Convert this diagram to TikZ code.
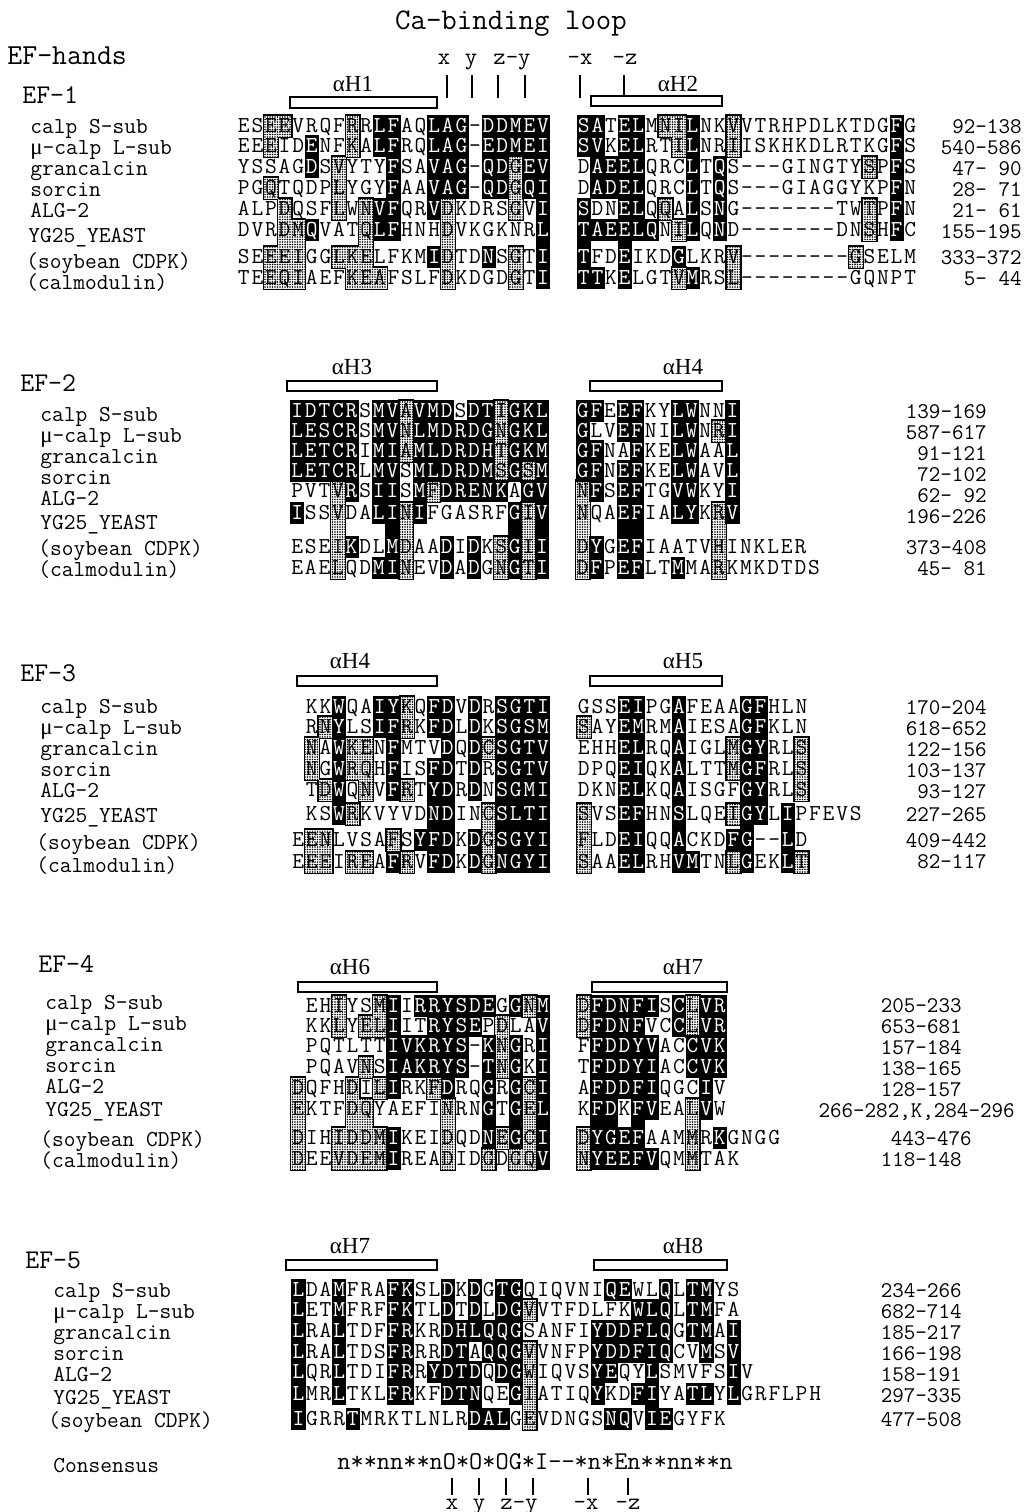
\documentclass[tikz,border=0pt]{standalone}
\usepackage{fontspec}
\newfontfamily\grkfont{Liberation Serif}
\usetikzlibrary{patterns.meta}
\tikzset{
  res/.style={font=\ttfamily\fontsize{11.4}{12}\selectfont, inner sep=0pt, anchor=base},
  nam/.style={font=\ttfamily\fontsize{11.4}{12}\selectfont, inner sep=0pt, anchor=base west},
  num/.style={font=\ttfamily\fontsize{11.2}{12}\selectfont, inner sep=0pt, anchor=base east},
  efl/.style={font=\ttfamily\fontsize{13.5}{15}\selectfont, inner sep=0pt, anchor=base west},
  head/.style={font=\ttfamily\fontsize{15}{17}\selectfont, inner sep=0pt, anchor=base},
  loopl/.style={font=\ttfamily\fontsize{12}{13}\selectfont, inner sep=0pt, anchor=base},
  hlab/.style={font=\grkfont\fontsize{11.5}{12}\selectfont, inner sep=0pt, anchor=base},
  helix/.style={draw, line width=1.4pt, fill=white},
  tick/.style={line width=0.6pt},
  dotty/.style={pattern={Dots[radius=0.4pt,distance=1.25pt]}, pattern color=black}
}

% one aligned row: name, y, residues (/ = empty), shading (. none, b black, g dotted)
% each block is drawn in four passes: outlines, dots, black, letters
\makeatletter
\newcount\cidx
\newcount\plen
\def\dotm{.}
\def\colw{13.6}
\def\hh{10.5}
\newcommand\runblock[3]{\def\blk{#1}\def\colx{#2}%
  \foreach \seqmode in {1,2,3,4}{\global\plen=0 #3}}
\def\seqrow#1#2#3#4{%
  \def\rname{#1}\def\rowy{#2}%
  \global\cidx=0
  \seqloop#3;|#4..........................................;|%
  \global\plen=\cidx
  \xdef\prevy{#2}}
\def\seqloop#1#2|#3#4|{%
  \ifx;#1\expandafter\@gobble\else\expandafter\@firstofone\fi
  {\seqcell#1#3\seqloop#2|#4|}}
\def\seqcell#1#2{%
  \global\advance\cidx by 1
  \pgfmathsetmacro\xa{\colx+(\the\cidx-1)*\colw}%
  \pgfmathsetmacro\xb{\xa+\colw}%
  \pgfmathsetmacro\ya{\rowy-\hh}%
  \pgfmathsetmacro\yb{\rowy+\hh}%
  \def\cm{#2}%
  \expandafter\let\expandafter\prvm\csname pm\the\cidx\endcsname
  \ifnum\cidx>\plen\else
    \ifx\prvm\cm\ifx\cm\dotm\else\let\ya\prevy\fi\fi
  \fi
  \expandafter\xdef\csname pm\the\cidx\endcsname{#2}%
  \ifcase\seqmode\or
    \if g#2\relax\fill (\xa-1.3,\ya-1.3) rectangle (\xb+1.3,\yb+1.3);\fi
  \or
    \if g#2\relax\fill[white] (\xa,\ya) rectangle (\xb,\yb);
      \fill[dotty] (\xa,\ya) rectangle (\xb,\yb);\fi
  \or
    \if b#2\relax\fill (\xa-0.3,\ya-0.3) rectangle (\xb+0.3,\yb+0.3);\fi
  \or
    \if /#1\relax\else
      \if b#2\relax\def\tc{white}\else\def\tc{black}\fi
      \pgfmathsetmacro\xc{\xa+0.5*\colw}%
      \node[res,text=\tc] (\blk\rname-\the\cidx) at (\xc,\rowy+6.5) {#1};%
    \fi
  \fi}
\makeatother
\newcommand\mucalp{{\grkfont μ}-calp L-sub}

\def\rowsa{%
\seqrow{1}{126}{ESEEVRQFRRLFAQLAG-DDMEV//SATELMNILNKVVTRHPDLKTDGFG}{..gg....g.bb..bbb.bbbbb..bb.bb.ggb..g...........b.}
\seqrow{2}{146}{EEEIDENFKALFRQLAG-EDMEI//SVKELRTILNRIISKHKDLRTKGFS}{..g..b..g.bb..bbb.bbbbb..bb.bb..gb..g...........b.}
\seqrow{3}{167}{YSSAGDSVYTYFSAVAG-QDGEV//DAEELQRCLTQS---GINGTYSPFS}{.....b.g...b..bbb.bbgbb...bbbb...b.b..........g.b.}
\seqrow{4}{188}{PGQTQDPLYGYFAAVAG-QDGQI//DADELQRCLTQS---GIAGGYKPFN}{..g....g...b..bbb.bbgbb...bbbb...b.b............b.}
\seqrow{5}{209}{ALPDQSFLWNVFQRVDKDRSGVI//SDNELQQALSNG-------TWTPFN}{...g...g.gbb..bg....g.b..b..bb.g.b.b..........g.b.}
\seqrow{6}{230}{DVRDMQVATQLFHNHDVKGKNRL//TAEELQNILQND-------DNSHFC}{...ggb...gbb...g......b..bbbbbb.gb.b..........g.b.}
\seqrow{7}{257}{SEEEIGGLKELFKMIDTDNSGTI//TFDEIKDGLKRV--------GSELM}{..ggg..ggg....bg..b.g.b..b..b...b...g........g....}
\seqrow{8}{278}{TEEQIAEFKEAFSLFDKDGDGTI//TTKELGTVMRSL--------GQNPT}{..ggg...ggg....g....g.b..bb.b...gb..g.............}}

\def\rowsb{%
\seqrow{1}{411}{IDTCRSMVAVMDSDTIGKL//GFEEFKYLWNNI}{bbbbb.bbgbbb.bbgbbb..bb.bb..bb..b}
\seqrow{2}{431}{LESCRSMVNLMDRDGNGKL//GLVEFNILWNRI}{bbbbb.bbgbbbbbbgbbb..b..bb..bb.gb}
\seqrow{3}{451}{LETCRIMIAMLDRDHTGKM//GFNAFKELWAAL}{bbbbb.bbgbbbbbbgbbb..bb..b..bb..b}
\seqrow{4}{471}{LETCRLMVSMLDRDMSGSM//GFNEFKELWAVL}{bbbbb.bb.bbbbbbgbgb..bb.bb..bb..b}
\seqrow{5}{491}{PVTVRSIISMFDRENKAGV//NFSEFTGVWKYI}{...gb.bb.bgbbbbb.bb..gb.bb..bb..b}
\seqrow{6}{513}{ISSVDALINIFGASRFGIV//NQAEFIALYKRV}{b..g..bbgb......bgb..g..bb..bb.gb}
\seqrow{7}{547}{ESEIKDLMDAADIDKSGII//DYGEFIAATVHINKLER}{...gb..bg..b.b.gbgb..gb.bb.....g......}
\seqrow{8}{568}{EAELQDMINEVDADGNGTI//DFPEFLTMMARKMKDTDS}{...g..bbg..b.b.gbgb..gb.bb..b..g.......}}

\def\rowsc{%
\seqrow{1}{707}{/KKWQAIYKQFDVDRSGTI//GSSEIPGAFEAAGFHLN}{...b..bbg.bb.b.bbbb.....bb..b....bb...}
\seqrow{2}{727}{/RNYLSIFRKFDLDKSGSM//SAYEMRMAIESAGFKLN}{..gb..bbg.bb.b.bbbb..g..bb..b....bb...}
\seqrow{3}{748}{/NAWKENFMTVDQDCSGTV//EHHELRQAIGLMGYRLS}{.g.bgg.b...b.bgbbbb.....bb..b...gbb..g}
\seqrow{4}{769}{/NGWRQHFISFDTDRSGTV//DPQEIQKALTTMGFRLS}{.g.bgg.b..bb.b.bbbb.....bb..b...gbb..g}
\seqrow{5}{790}{/TDWQNVFRTYDRDNSGMI//DKNELKQAISGFGYRLS}{..gb.g.bg.bb.b.bbbb.....bb..b....bb..g}
\seqrow{6}{814}{/KSWRKVYVDNDINCSLTI//SVSEFHNSLQEIGYLIPFEVS}{...bg.....bb..gbbbb..g..bb..b...gbb.b.....}
\seqrow{7}{840}{EENLVSAFSYFDKDGSGYI//FLDEIQQACKDFG--LD}{.gg....g.bbb.bgbbbb..g..bb..b...bb..b.}
\seqrow{8}{862}{EEEIREAFRVFDKDGNGYI//SAAELRHVMTNLGEKLT}{.gg.gg.bg.bb.bgbbbb..g..bb..bb..gb..bg}}

\def\rowsd{%
\seqrow{1}{1006}{/EHIYSMIIRRYSDEGGNM//DFDNFISCLVR}{...g..gb.bbbbbb.bgb..gbbbbb.bgbb}
\seqrow{2}{1026}{/KKLYELIITRYSEPDLAV//DFDNFVCCLVR}{...g.ggb..bbbb.g..b..gbbbb..bgbb}
\seqrow{3}{1046}{/PQTLTTIVKRYS-KNGRI//FFDDYVACCVK}{.......bbbbbb.bgb.b...bbbbb..bbb}
\seqrow{4}{1067}{/PQAVNSIAKRYS-TNGKI//TFDDYIACCVK}{.....g.bbbbbb.bgb.b...bbbbb..bbb}
\seqrow{5}{1088}{DQFHDILIRKFDRQGRGCI//AFDDFIQGCIV}{g...g.gb..gb..b.bgb...bbbbb...b.}
\seqrow{6}{1109}{EKTFDQYAEFINRNGTGEL//KFDKFVEALVW}{g...gg.....g..b.bgb...bb.bb..gb.}
\seqrow{7}{1138}{DIHIDDMIKEIDQDNEGCI//DYGEFAAMMRKGNGG}{g..ggggb...g..bgbgb..gbbbb...g.b....}
\seqrow{8}{1159}{DEEVDEMIREADIDGDGQV//NYEEFVQMMTAK}{g..ggggb...g..g.ggb..gbbbbb..g...}}

\def\rowse{%
\seqrow{1}{1290}{LDAMFRAFKSLDKDGTGQIQVNIQEWLQLTMYS}{b..b...bb..b.b.bb......bb..b.bb..}
\seqrow{2}{1310}{LETMFRFFKTLDTDLDGVVTFDLFKWLQLTMFA}{b..b...bb..b.b.bbg.......bbb.bb..}
\seqrow{3}{1331}{LRALTDFFRKRDHLQQGSANFIYDDFLQGTMAI}{b..b...bb..bbbbbb.....bbbbbb.bb.b}
\seqrow{4}{1352}{LRALTDSFRRRDTAQQGVVNFPYDDFIQCVMSV}{b..b...bb..bb.bbbg....bbbbbb..b.b}
\seqrow{5}{1372}{LQRLTDIFRRYDTDQDGWIQVSYEQYLSMVFSIV}{b..b...bb.bbbb.bbg....bb..b.....b.}
\seqrow{6}{1394}{LMRLTKLFRKFDTNQEGIATIQYKDFIYATLYLGRFLPH}{b..b...bb..bbb..bg....b..bb..bb.b......}
\seqrow{7}{1419}{IGRRTMRKTLNLRDALGEVDNGSNQVIEGYFK}{b...b........bbb.g.....bb.bb....}}

\begin{document}
\begin{tikzpicture}[x=0.5pt,y=-0.5pt]
\fill[white] (0,0) rectangle (1029,1512);
\useasboundingbox (0,0) rectangle (1029,1512);

% header
\node[head] (loop) at (511,29) {Ca-binding loop};
\node[head, anchor=base west, font=\ttfamily\fontsize{14.5}{16}\selectfont] (efh) at (7,64) {EF-hands};
\node[loopl] (hx) at (444,64) {x};
\node[loopl] (hy) at (471,64) {y};
\node[loopl] (hzy) at (512,64) {z-y};
\node[loopl] (hmx) at (580,64) {-x};
\node[loopl] (hmz) at (625,64) {-z};
\foreach \tx [count=\i] in {447,472,498,525,580}
  \draw[tick] (\tx,75) coordinate (tt\i) -- (\tx,98);
\draw[tick] (624,75) coordinate (tt6) -- (624,96);

%% EF-1
\node[efl] (ef1) at (22,103) {EF-1};
\draw[helix] (290,97) rectangle (437,108);
\node[hlab] (ah1) at (353,91) {αH1};
\draw[helix] (591,96) rectangle (722,106);
\node[hlab] (ah2) at (678,91) {αH2};
\node[nam] (la1) at (30,133) {calp S-sub};
\node[nam] (la2) at (30,154) {\mucalp};
\node[nam] (la3) at (30,175) {grancalcin};
\node[nam] (la4) at (30,196) {sorcin};
\node[nam] (la5) at (30,217) {ALG-2};
\node[nam] (la6) at (28,242) {YG25\_YEAST};
\node[nam] (la7) at (26,268) {(soybean CDPK)};
\node[nam] (la8) at (26,289) {(calmodulin)};
\runblock{a}{237}{\rowsa}
\node[num] (na1) at (1022,133) {92-138};
\node[num] (na2) at (1022,154) {540-586};
\node[num] (na3) at (1022,175) {47- 90};
\node[num] (na4) at (1022,196) {28- 71};
\node[num] (na5) at (1022,217) {21- 61};
\node[num] (na6) at (1022,238) {155-195};
\node[num] (na7) at (1022,264) {333-372};
\node[num] (na8) at (1022,285) {5- 44};

%% EF-2
\node[efl] (ef2) at (20,391) {EF-2};
\draw[helix] (287,381) rectangle (437,391);
\node[hlab] (ah3) at (352,374) {αH3};
\draw[helix] (590,381) rectangle (722,391);
\node[hlab] (ah4) at (683,374) {αH4};
\node[nam] (lb1) at (40,421) {calp S-sub};
\node[nam] (lb2) at (40,442) {\mucalp};
\node[nam] (lb3) at (40,463) {grancalcin};
\node[nam] (lb4) at (40,484) {sorcin};
\node[nam] (lb5) at (40,505) {ALG-2};
\node[nam] (lb6) at (40,529) {YG25\_YEAST};
\node[nam] (lb7) at (38,555) {(soybean CDPK)};
\node[nam] (lb8) at (38,576) {(calmodulin)};
\runblock{b}{290.4}{\rowsb}
\node[num] (nb1) at (987,418) {139-169};
\node[num] (nb2) at (987,439) {587-617};
\node[num] (nb3) at (987,460) {91-121};
\node[num] (nb4) at (987,481) {72-102};
\node[num] (nb5) at (987,502) {62- 92};
\node[num] (nb6) at (987,523) {196-226};
\node[num] (nb7) at (987,554) {373-408};
\node[num] (nb8) at (987,575) {45- 81};

%% EF-3
\node[efl] (ef3) at (20,681) {EF-3};
\draw[helix] (297,676) rectangle (437,686);
\node[hlab] (ah5) at (350,668) {αH4};
\draw[helix] (590,676) rectangle (722,686);
\node[hlab] (ah6) at (683,668) {αH5};
\node[nam] (lc1) at (40,713) {calp S-sub};
\node[nam] (lc2) at (40,734) {\mucalp};
\node[nam] (lc3) at (40,755) {grancalcin};
\node[nam] (lc4) at (40,776) {sorcin};
\node[nam] (lc5) at (40,797) {ALG-2};
\node[nam] (lc6) at (40,822) {YG25\_YEAST};
\node[nam] (lc7) at (36,849) {(soybean CDPK)};
\node[nam] (lc8) at (36,872) {(calmodulin)};
\runblock{c}{291.4}{\rowsc}
\node[num] (nc1) at (987,714) {170-204};
\node[num] (nc2) at (987,735) {618-652};
\node[num] (nc3) at (987,756) {122-156};
\node[num] (nc4) at (987,777) {103-137};
\node[num] (nc5) at (987,798) {93-127};
\node[num] (nc6) at (987,821) {227-265};
\node[num] (nc7) at (987,847) {409-442};
\node[num] (nc8) at (987,868) {82-117};

%% EF-4
\node[efl] (ef4) at (38,972) {EF-4};
\draw[helix] (298,982) rectangle (437,992);
\node[hlab] (ah7) at (350,974) {αH6};
\draw[helix] (592,982) rectangle (727,992);
\node[hlab] (ah8) at (683,974) {αH7};
\node[nam] (ld1) at (45,1009) {calp S-sub};
\node[nam] (ld2) at (45,1030) {\mucalp};
\node[nam] (ld3) at (45,1051) {grancalcin};
\node[nam] (ld4) at (45,1072) {sorcin};
\node[nam] (ld5) at (45,1093) {ALG-2};
\node[nam] (ld6) at (45,1116) {YG25\_YEAST};
\node[nam] (ld7) at (40,1146) {(soybean CDPK)};
\node[nam] (ld8) at (40,1167) {(calmodulin)};
\runblock{d}{291.4}{\rowsd}
\node[num] (nd1) at (962,1012) {205-233};
\node[num] (nd2) at (962,1033) {653-681};
\node[num] (nd3) at (962,1054) {157-184};
\node[num] (nd4) at (962,1075) {138-165};
\node[num] (nd5) at (962,1096) {128-157};
\node[num] (nd6) at (1015,1117) {266-282,K,284-296};
\node[num] (nd7) at (972,1145) {443-476};
\node[num] (nd8) at (962,1166) {118-148};

%% EF-5
\node[efl] (ef5) at (25,1268) {EF-5};
\draw[helix] (286,1260) rectangle (437,1270);
\node[hlab] (ah9) at (350,1253) {αH7};
\draw[helix] (594,1260) rectangle (727,1270);
\node[hlab] (ah10) at (683,1253) {αH8};
\node[nam] (le1) at (53,1297) {calp S-sub};
\node[nam] (le2) at (53,1318) {\mucalp};
\node[nam] (le3) at (53,1339) {grancalcin};
\node[nam] (le4) at (53,1360) {sorcin};
\node[nam] (le5) at (53,1381) {ALG-2};
\node[nam] (le6) at (53,1404) {YG25\_YEAST};
\node[nam] (le7) at (48,1427) {(soybean CDPK)};
\runblock{e}{291.6}{\rowse}
\node[num] (ne1) at (962,1297) {234-266};
\node[num] (ne2) at (962,1318) {682-714};
\node[num] (ne3) at (962,1339) {185-217};
\node[num] (ne4) at (962,1360) {166-198};
\node[num] (ne5) at (962,1381) {158-191};
\node[num] (ne6) at (962,1402) {297-335};
\node[num] (ne7) at (962,1426) {477-508};

% consensus
\node[nam] (lcons) at (53,1472) {Consensus};
\node[res, anchor=base west, font=\ttfamily\fontsize{12.8}{13}\selectfont] (cons) at (337,1469) {n**nn**nO*O*OG*I-{}-*n*En**nn**n};
\foreach \tx [count=\i] in {452,479,506,533,588,628}
  \draw[tick] (\tx,1478) coordinate (bt\i) -- (\tx,1495);
\node[loopl] (bx) at (452,1509) {x};
\node[loopl] (by) at (479,1509) {y};
\node[loopl] (bzy) at (519,1509) {z-y};
\node[loopl] (bmx) at (586,1509) {-x};
\node[loopl] (bmz) at (628,1509) {-z};
\end{tikzpicture}
\end{document}
